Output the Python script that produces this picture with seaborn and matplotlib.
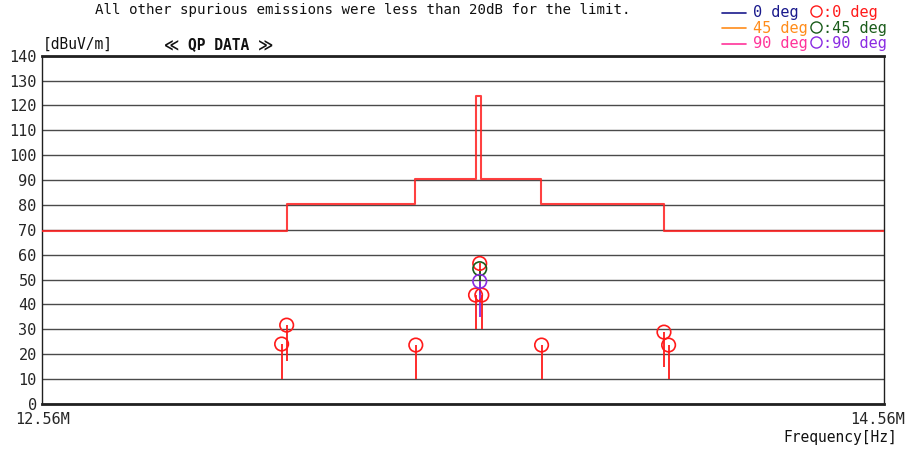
import matplotlib
matplotlib.use("Agg")
import matplotlib.pyplot as plt
import matplotlib.transforms as mtransforms
from matplotlib.lines import Line2D
import numpy as np
import pandas as pd
import seaborn as sns

# Limit line (dBuV/m), step edges in MHz
limit_edges = [12.56, 13.141, 13.447, 13.590, 13.602, 13.745, 14.039, 14.56]
limit_levels = [69.5, 80.5, 90.5, 124.0, 90.5, 80.5, 69.5]

# QP readings per antenna angle: frequency (MHz), level (dBuV/m), stem base
qp0_freq = [13.129, 13.141, 13.448, 13.590, 13.600, 13.605, 13.747, 14.038, 14.049]
qp0_level = [24.1, 31.7, 23.7, 43.8, 56.5, 43.8, 23.7, 28.9, 23.7]
qp0_base = [10.0, 17.4, 10.0, 30.0, 43.8, 30.0, 10.0, 15.0, 10.0]

qp45_freq = [13.600]
qp45_level = [54.4]
qp45_base = [44.6]

qp90_freq = [13.600]
qp90_level = [49.3]
qp90_base = [35.1]

y_ticks = list(range(0, 141, 10))
x_range = [12.56, 14.56]
x_labels = ["12.56M", "14.56M"]

sns.set_theme(style="white")
plt.rcParams["font.family"] = ["DejaVu Sans Mono", "DejaVu Sans"]

fig = plt.figure(figsize=(9.09, 4.5), dpi=100)
ax = fig.add_axes([0.0465, 0.1022, 0.9255, 0.774])

# horizontal grid
for v in y_ticks:
    ax.axhline(v, color="#4a4a4a", lw=1.0, zorder=1)

# limit line as a step trace
lim_df = pd.DataFrame({
    "freq": limit_edges,
    "level": limit_levels + [limit_levels[-1]],
})
sns.lineplot(data=lim_df, x="freq", y="level", drawstyle="steps-post",
             color="#ff2020", lw=1.5, alpha=0.85, estimator=None, sort=False,
             ax=ax, zorder=3)

series = [
    (qp0_freq, qp0_level, qp0_base, "#ff1a1a"),
    (qp45_freq, qp45_level, qp45_base, "#1a5c1a"),
    (qp90_freq, qp90_level, qp90_base, "#8a2be2"),
]
for fr, lv, bs, col in series:
    ax.vlines(fr, bs, lv, color=col, lw=1.3, zorder=4)
for fr, lv, bs, col in series:
    df = pd.DataFrame({"freq": fr, "level": lv})
    sns.scatterplot(data=df, x="freq", y="level", marker="o", s=95,
                    facecolors="none", edgecolor=col, linewidth=1.2,
                    ax=ax, zorder=5)

ax.set_xlim(*x_range)
ax.set_ylim(0, 140)
ax.set_yticks(y_ticks)
ax.set_yticklabels([str(v) for v in y_ticks], fontsize=11)
ax.set_xticks(x_range)
ax.set_xticklabels(x_labels, fontsize=11)
ax.tick_params(axis="y", length=0, pad=4)
ax.tick_params(axis="x", length=0, pad=6)
# keep the right-hand frequency label inside the canvas
last = ax.get_xticklabels()[-1]
last.set_transform(last.get_transform() +
                   mtransforms.ScaledTranslation(-6 / 100, 0, fig.dpi_scale_trans))
ax.set_xlabel("")
ax.set_ylabel("")
for side in ["top", "bottom"]:
    ax.spines[side].set_linewidth(2.0)
    ax.spines[side].set_color("#202020")
for side in ["left", "right"]:
    ax.spines[side].set_linewidth(1.0)
    ax.spines[side].set_color("#202020")

# annotations
fig.text(0.104, 0.978, "All other spurious emissions were less than 20dB for the limit.",
         fontsize=10.2, color="#111111", va="center", ha="left")
fig.text(0.047, 0.902, "[dBuV/m]", fontsize=10.5, color="#111111", va="center", ha="left")
fig.text(0.18, 0.902, "\u226a QP DATA \u226b", fontsize=10.5, fontweight="bold",
         color="#111111", va="center", ha="left")
fig.text(0.987, 0.028, "Frequency[Hz]", fontsize=10.5, color="#111111",
         va="center", ha="right")

# legend block
rows = [0.972, 0.937, 0.903]
line_cols = ["#1a1a8c", "#ff8c1a", "#ff3399"]
line_txt = ["0 deg", "45 deg", "90 deg"]
mark_cols = ["#ff1a1a", "#1a5c1a", "#8a2be2"]
mark_txt = [":0 deg", ":45 deg", ":90 deg"]
for y, lc, lt, mc, mt in zip(rows, line_cols, line_txt, mark_cols, mark_txt):
    fig.add_artist(Line2D([0.794, 0.821], [y, y], color=lc, lw=1.2,
                          transform=fig.transFigure))
    fig.text(0.828, y, lt, fontsize=11, color=lc, va="center", ha="left")
    fig.add_artist(Line2D([0.8975], [y + 0.004], marker="o", markersize=8,
                          markerfacecolor="none", markeredgecolor=mc,
                          markeredgewidth=1.0, transform=fig.transFigure))
    fig.text(0.905, y, mt, fontsize=11, color=mc, va="center", ha="left")

fig.savefig("out.png", dpi=100)
